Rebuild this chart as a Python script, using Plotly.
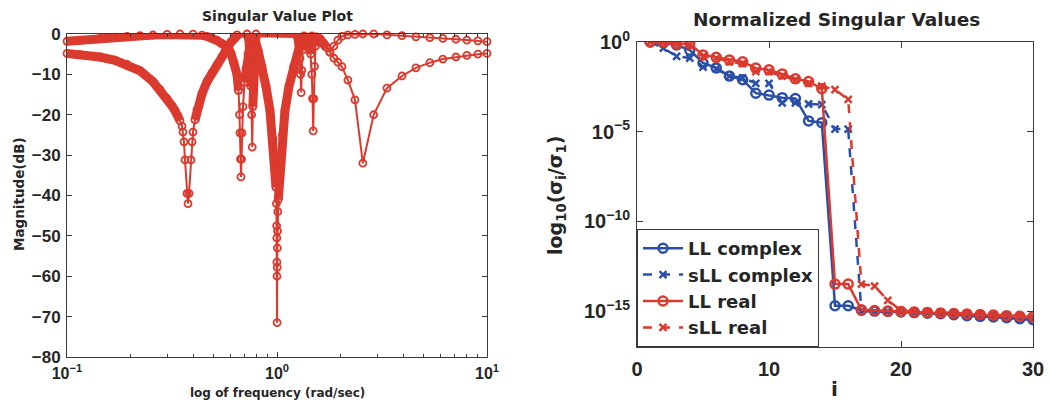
import plotly.graph_objects as go

# ---------------- Left chart: singular value plot ----------------
sv_low_freq = [0.1000, 0.1153, 0.1436, 0.1693, 0.1931, 0.2226, 0.2567, 0.2772, 0.2995, 0.3162,
               0.3268, 0.3378, 0.3452, 0.3528, 0.3567, 0.3606, 0.3646, 0.3728, 0.3769, 0.3811,
               0.3896, 0.3939, 0.3981, 0.4069, 0.4159, 0.4394, 0.4642, 0.4901, 0.5179, 0.5470,
               0.5654, 0.5843, 0.6039, 0.6241, 0.6449, 0.6557, 0.6629, 0.6665, 0.6702, 0.6739,
               0.6776, 0.6813, 0.6888, 0.7002, 0.7118, 0.7276, 0.7437, 0.7603, 0.7771, 0.7857,
               0.8118, 0.8484, 0.8864, 0.9261, 0.9572, 0.9783, 0.9891, 0.9934, 0.9956, 0.9978,
               0.9989, 1.0000, 1.0011, 1.0022, 1.0038, 1.0055, 1.0088, 1.0143, 1.0254, 1.0389,
               1.0617, 1.0908, 1.1400, 1.2007, 1.2646, 1.3316, 1.3919, 1.4661, 1.5323, 1.5834,
               1.6364, 1.7097, 1.7863, 1.8664, 1.9500, 2.0374, 2.1758, 2.3508, 2.5633, 2.8862,
               3.3389, 3.9355, 4.5865, 5.3453, 6.1646, 7.1094, 8.0212, 9.0499, 10.0]
sv_low_db = [-4.8, -5.1, -5.7, -6.5, -7.5, -9.1, -11.8, -13.8, -16.0, -17.8,
             -19.0, -20.3, -21.5, -22.8, -24.3, -26.7, -31.2, -39.5, -42.0, -39.5,
             -31.2, -26.7, -24.3, -21.3, -18.8, -14.8, -11.8, -9.6, -7.6, -5.6,
             -4.3, -3.3, -4.8, -7.0, -10.0, -14.0, -20.0, -24.5, -31.0, -35.4,
             -31.0, -24.5, -18.0, -12.0, -8.5, -5.0, -2.8, -1.5, -1.2, -1.6,
             -4.0, -8.0, -13.0, -19.0, -26.0, -33.0, -38.0, -42.0, -47.5, -50.5,
             -56.5, -60.0, -71.5, -57.8, -53.0, -48.8, -44.0, -41.0, -36.0, -31.0,
             -25.0, -19.0, -13.0, -8.0, -4.0, -1.8, -0.8, -0.5, -0.7, -1.2,
             -2.0, -3.2, -4.5, -6.0, -7.0, -8.1, -11.4, -16.3, -32.0, -20.0,
             -13.4, -10.4, -8.4, -7.1, -6.2, -5.7, -5.3, -5.0, -4.8]

sv_high_freq = [0.1000, 0.1153, 0.1436, 0.1693, 0.1931, 0.2226, 0.2567, 0.2995, 0.3452, 0.3981,
                0.4394, 0.4642, 0.4901, 0.5179, 0.5470, 0.5654, 0.5843, 0.6039, 0.6241, 0.6449,
                0.6665, 0.6963, 0.7197, 0.7356, 0.7437, 0.7520, 0.7570, 0.7621, 0.7671, 0.7731,
                0.7816, 0.7943, 0.8299, 0.9261, 1.0334, 1.1531, 1.2318, 1.2589, 1.2730, 1.2866,
                1.2951, 1.3036, 1.3122, 1.3223, 1.3442, 1.3919, 1.4284, 1.4488, 1.4648, 1.4761,
                1.4876, 1.4973, 1.5090, 1.5255, 1.5508, 1.6026, 1.6745, 1.7304, 1.7863, 1.8664,
                1.9500, 2.0374, 2.1758, 2.3508, 2.5633, 2.8862, 3.3389, 3.9355, 4.5865, 5.3453,
                6.1646, 7.1094, 8.0212, 9.0499, 10.0]
sv_high_db = [-1.8, -1.5, -1.1, -0.8, -0.6, -0.4, -0.25, -0.1, 0.0, -0.05,
              -0.3, -0.6, -1.0, -1.6, -2.4, -2.9, -3.3, -2.0, -0.9, -0.2,
              0.3, 0.2, 0.0, -1.5, -6.0, -13.0, -20.0, -28.0, -18.0, -8.0,
              -2.0, 0.0, 0.3, 0.4, 0.4, 0.3, 0.1, -1.0, -3.0, -6.0,
              -10.0, -14.5, -9.0, -4.0, -0.5, 0.3, -1.0, -5.0, -10.0, -16.0,
              -24.0, -16.0, -8.0, -3.0, -0.8, -1.2, -2.4, -3.4, -4.5, -3.0,
              -1.5, -0.6, -0.2, -0.1, 0.0, 0.0, -0.2, -0.4, -0.7, -0.9,
              -1.1, -1.3, -1.5, -1.7, -1.9]

freq_ticks = [0.1, 1, 10]
freq_ticktext = ["10<sup>−1</sup>", "10<sup>0</sup>", "10<sup>1</sup>"]
freq_minor = [0.2, 0.3, 0.4, 0.5, 0.6, 0.7, 0.8, 0.9, 2, 3, 4, 5, 6, 7, 8, 9]
db_ticks = [0, -10, -20, -30, -40, -50, -60, -70, -80]
db_ticktext = ["0", "−10", "−20", "−30", "−40", "−50", "−60", "−70", "−80"]

# ---------------- Right chart: normalized singular values ----------------
index_i = list(range(1, 31))
ll_complex = [1.0, 0.89, 0.68, 0.35, 0.068, 0.036, 0.0126, 0.0079, 1.4e-3, 1.1e-3,
              7.9e-4, 7.1e-4, 4.0e-5, 3.2e-5, 2.0e-15, 2.0e-15, 1.12e-15, 1.0e-15, 9.5e-16, 8.9e-16,
              8.3e-16, 7.6e-16, 7.1e-16, 6.3e-16, 5.6e-16, 5.0e-16, 4.7e-16, 4.3e-16, 3.8e-16, 3.3e-16]
sll_complex = [1.0, 0.45, 0.16, 0.126, 0.040, 0.032, 0.0126, 0.010, 5.0e-3, 5.0e-3,
               4.0e-4, 4.0e-4, 3.5e-4, 3.2e-4, 1.4e-5, 1.4e-5, 1.0e-15, 9.5e-16, 9.3e-16, 8.9e-16,
               8.3e-16, 7.6e-16, 7.1e-16, 6.3e-16, 5.6e-16, 5.0e-16, 4.7e-16, 4.3e-16, 3.8e-16, 3.3e-16]
ll_real = [1.0, 1.0, 0.79, 0.79, 0.19, 0.14, 0.10, 0.079, 0.035, 0.028,
           0.0166, 0.0089, 0.0063, 0.0025, 3.2e-14, 3.2e-14, 1.2e-15, 1.07e-15, 1.0e-15, 9.5e-16,
           8.9e-16, 8.3e-16, 7.9e-16, 7.4e-16, 6.9e-16, 6.5e-16, 6.0e-16, 5.6e-16, 5.2e-16, 4.8e-16]
sll_real = [1.0, 0.89, 0.76, 0.71, 0.16, 0.126, 0.079, 0.063, 0.022, 0.022,
            0.0126, 0.0079, 0.005, 0.0035, 2.2e-3, 6.3e-4, 3.2e-14, 2.5e-14, 4.0e-15, 1.07e-15,
            1.0e-15, 9.3e-16, 8.7e-16, 7.9e-16, 7.4e-16, 6.9e-16, 6.3e-16, 5.9e-16, 5.4e-16, 5.0e-16]

i_ticks = [0, 10, 20, 30]
ratio_ticks = [1, 1e-5, 1e-10, 1e-15]
ratio_ticktext = ["10<sup>0</sup>", "10<sup>−5</sup>", "10<sup>−10</sup>", "10<sup>−15</sup>"]

series_names = ["LL complex", "sLL complex", "LL real", "sLL real"]

# ---------------- Styling ----------------
W, H = 1050, 403
RED = "#db3a2e"
BLUE = "#2b4ea6"
TXT = "#262626"
AX = "#3a3a3a"
TICKFONT = "Liberation Sans"
LABELFONT = "DejaVu Sans"

# where the densely sampled response draws as a solid thick band: (f_min, f_max, dB floor)
BAND_STYLE = [(0.0, 0.62, -22), (0.62, 0.70, -18), (0.70, 0.79, -19),
              (0.79, 1.25, -42), (1.25, 1.75, -5.5)]


def px_x(p):
    return p / W


def px_y(p):
    return 1 - p / H


def band_part(freq, db):
    out = []
    for f, d in zip(freq, db):
        keep = False
        for lo, hi, floor in BAND_STYLE:
            if lo <= f < hi and d > floor:
                keep = True
        out.append(d if keep else None)
    return out


fig = go.Figure()

for fr, db in [(sv_low_freq, sv_low_db), (sv_high_freq, sv_high_db)]:
    fig.add_trace(go.Scatter(
        x=fr, y=band_part(fr, db), mode="lines", xaxis="x", yaxis="y",
        line=dict(color=RED, width=9), connectgaps=False,
        showlegend=False, hoverinfo="skip"))
    fig.add_trace(go.Scatter(
        x=fr, y=db, mode="lines+markers", xaxis="x", yaxis="y",
        line=dict(color=RED, width=2),
        marker=dict(symbol="circle-open", size=7, color=RED, line=dict(width=1.8, color=RED)),
        showlegend=False, cliponaxis=False))

right_series = [
    (ll_complex, BLUE, "solid", "circle-open", 9),
    (sll_complex, BLUE, "dash", "x-thin-open", 7),
    (ll_real, RED, "solid", "circle-open", 9),
    (sll_real, RED, "dash", "x-thin-open", 7),
]
for name, (vals, col, dash, sym, msize) in zip(series_names, right_series):
    fig.add_trace(go.Scatter(
        x=index_i, y=vals, mode="lines+markers", name=name, xaxis="x2", yaxis="y2",
        line=dict(color=col, width=2.5, dash=dash),
        marker=dict(symbol=sym, size=msize, color=col, line=dict(width=2.5, color=col))))

axis_common = dict(showline=True, linecolor=AX, linewidth=1, mirror="ticks", ticks="inside",
                   tickcolor=AX, showgrid=False, zeroline=False, automargin=False)


def label(text, x, y, size, angle=0):
    return dict(text=text, x=px_x(x), y=px_y(y), xref="paper", yref="paper",
                xanchor="center", yanchor="middle", showarrow=False, textangle=angle,
                font=dict(family=LABELFONT, size=size, color=TXT))


fig.update_layout(
    width=W, height=H, margin=dict(l=0, r=0, t=0, b=0),
    paper_bgcolor="white", plot_bgcolor="white",
    xaxis=dict(type="log", range=[-1, 1], domain=[px_x(67), px_x(487)], anchor="y",
               tickvals=freq_ticks, ticktext=freq_ticktext, ticklen=5,
               minor=dict(ticks="inside", ticklen=3, tickvals=freq_minor, tickcolor=AX),
               tickfont=dict(family=TICKFONT, size=16, color=TXT, weight="bold"),
               ticklabelstandoff=2, **axis_common),
    yaxis=dict(range=[-80, 0], domain=[px_y(357), px_y(34)], anchor="x",
               tickvals=db_ticks, ticktext=db_ticktext, ticklen=5,
               tickfont=dict(family=TICKFONT, size=17, color=TXT, weight="bold"),
               ticklabelstandoff=2, **axis_common),
    xaxis2=dict(range=[0, 30], domain=[px_x(637), px_x(1033)], anchor="y2",
                tickvals=i_ticks, ticklen=6,
                tickfont=dict(family=TICKFONT, size=20, color=TXT, weight="bold"),
                ticklabelstandoff=4, **axis_common),
    yaxis2=dict(type="log", range=[-17, 0], domain=[px_y(347), px_y(42)], anchor="x2",
                tickvals=ratio_ticks, ticktext=ratio_ticktext, ticklen=6,
                tickfont=dict(family=TICKFONT, size=20, color=TXT, weight="bold"),
                ticklabelstandoff=2, **axis_common),
    legend=dict(x=px_x(637), y=px_y(347), xanchor="left", yanchor="bottom",
                bgcolor="white", bordercolor=AX, borderwidth=1,
                font=dict(family=LABELFONT, size=18, color=TXT, weight="bold"),
                tracegroupgap=0, itemwidth=40),
    annotations=[
        label("<b>Singular Value Plot</b>", 277, 16, 14),
        label("<b>Magnitude(dB)</b>", 19, 194, 13.5, -90),
        label("<b>log of frequency (rad/sec)</b>", 277, 393, 12),
        label("<b>Normalized Singular Values</b>", 836, 19, 18.5),
        label("<b>log<sub>10</sub>(σ<sub>i</sub>/σ<sub>1</sub>)</b>", 557, 196, 19, -90),
        label("<b>i</b>", 834, 389, 20),
    ],
)

fig.write_html("out.html")
